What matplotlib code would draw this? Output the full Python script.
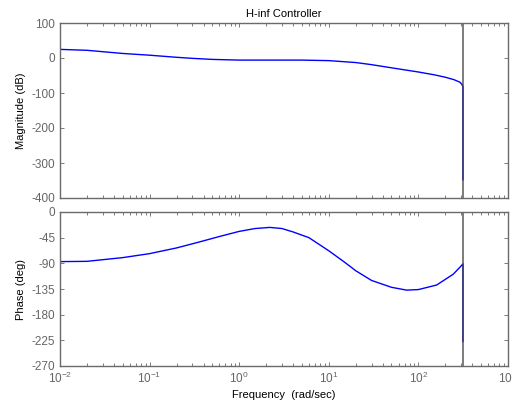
import numpy as np
import matplotlib
matplotlib.use("Agg")
import matplotlib.pyplot as plt
from matplotlib.ticker import LogLocator, NullFormatter, MultipleLocator

plt.rcParams['font.family'] = ['Liberation Sans', 'DejaVu Sans']
plt.rcParams['mathtext.fontset'] = 'custom'
plt.rcParams['mathtext.rm'] = 'Liberation Sans'
plt.rcParams['mathtext.it'] = 'Liberation Sans'
plt.rcParams['axes.unicode_minus'] = False

# values
nyquist = 314.16
freq = [0.01, 0.02, 0.03, 0.05, 0.1, 0.2, 0.3, 0.5, 1, 2, 5, 10, 20, 30, 50,
        100, 150, 200, 250, 290, 305, nyquist, nyquist]
mag_db = [24.6, 22, 18, 13, 8, 2, -1, -4, -6, -6, -6, -7.5, -13, -19, -28,
          -40, -48, -55, -62, -69, -75, -82, -348]

freq_ph = [0.01, 0.02, 0.05, 0.1, 0.2, 0.35, 0.6, 1, 1.5, 2.2, 3, 4, 6, 10, 15,
           20, 30, 50, 74, 100, 160, 245, 290, nyquist, nyquist]
phase_deg = [-87, -86.5, -80, -73, -63, -53, -43, -34, -29, -27, -29, -35, -45, -68, -88,
             -103, -120, -132, -137, -136, -128, -109, -97, -91, -227]

frame = '#6a6a6a'
tickc = '#666666'


def style(ax):
    ax.set_xscale('log')
    ax.set_xlim(1e-2, 1e3)
    ax.xaxis.set_major_locator(LogLocator(base=10, numticks=10))
    ax.xaxis.set_minor_locator(LogLocator(base=10, subs=np.arange(2, 10), numticks=20))
    ax.xaxis.set_minor_formatter(NullFormatter())
    ax.tick_params(which='both', direction='in', top=True, right=True, colors=tickc,
                   labelsize=8.5)
    ax.tick_params(which='major', length=3, width=0.6)
    ax.tick_params(which='minor', length=2, width=0.6)
    for s in ax.spines.values():
        s.set_color(frame)
        s.set_linewidth(1.0)


fig = plt.figure(figsize=(5.12, 4.13), dpi=100)
ax1 = fig.add_axes([60 / 512, 1 - 198 / 413, 448 / 512, 175 / 413])
ax2 = fig.add_axes([60 / 512, 1 - 366 / 413, 448 / 512, 154 / 413])

ax1.plot(freq, mag_db, color='#0000ff', lw=1.0)
ax1.axvline(nyquist, color='#404040', lw=1.2, alpha=0.8)
style(ax1)
ax1.set_ylim(-400, 100)
ax1.yaxis.set_major_locator(MultipleLocator(100))
ax1.tick_params(labelbottom=False)
ax1.set_ylabel('Magnitude (dB)', fontsize=8, labelpad=4)
ax1.set_title('H-inf Controller', fontsize=8, pad=4)

ax2.plot(freq_ph, phase_deg, color='#0000ff', lw=1.0)
ax2.axvline(nyquist, color='#404040', lw=1.2, alpha=0.8)
style(ax2)
ax2.set_ylim(-270, 0)
ax2.yaxis.set_major_locator(MultipleLocator(45))
ax2.set_ylabel('Phase (deg)', fontsize=8, labelpad=4)
ax2.set_xlabel('Frequency  (rad/sec)', fontsize=8, labelpad=3)

fig.savefig('out.png', dpi=100)
